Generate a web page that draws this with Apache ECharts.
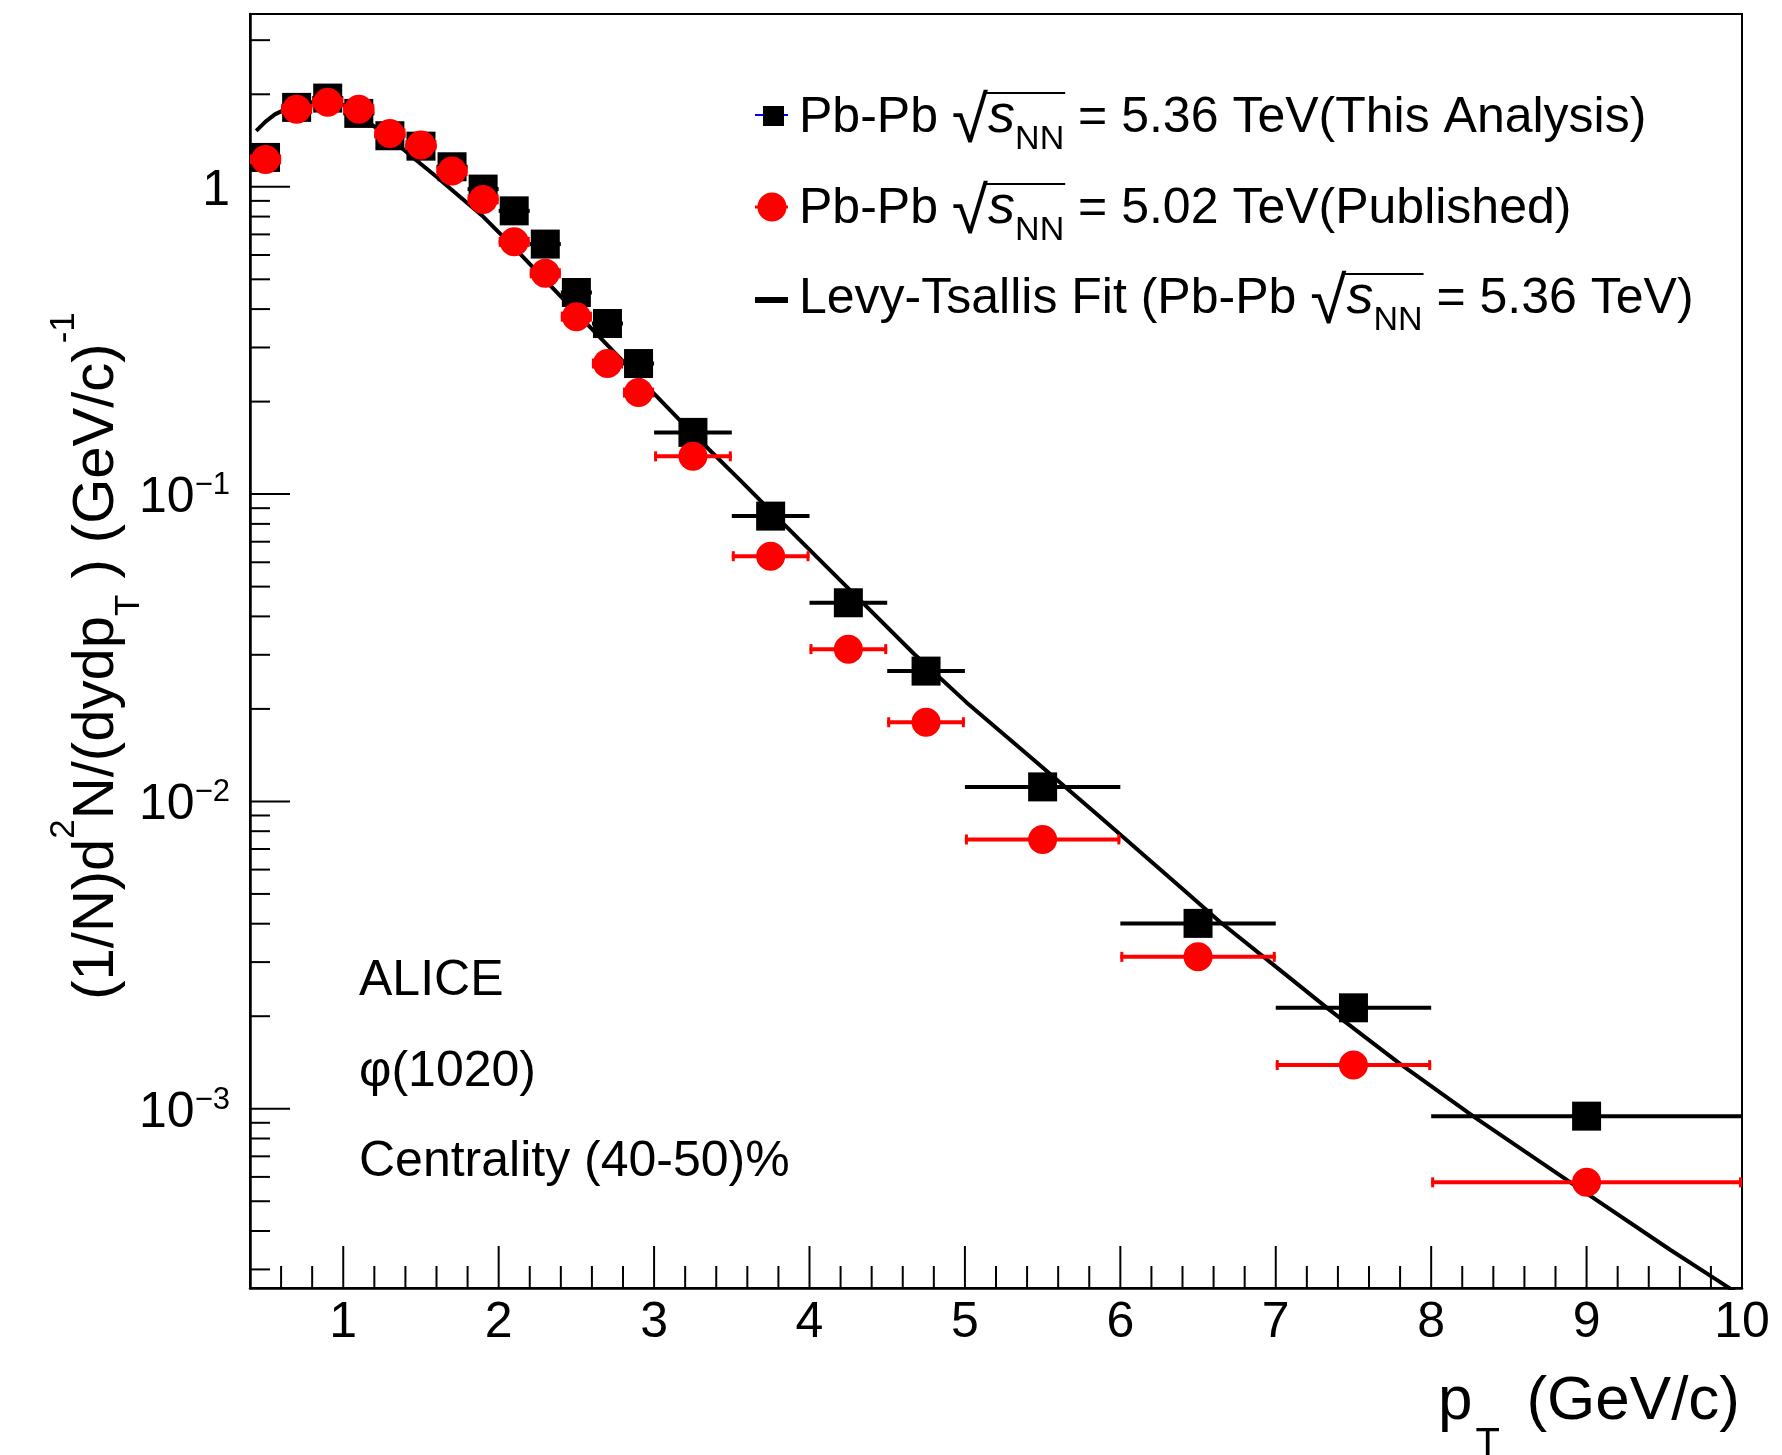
<!DOCTYPE html>
<html><head><meta charset="utf-8">
<script src="https://cdn.jsdelivr.net/npm/echarts@6/dist/echarts.min.js"></script>
<style>html,body{margin:0;padding:0;background:#fff}#c{width:1782px;height:1455px}</style>
</head><body><div id="c"></div><script>
// ---------------- data ----------------
const ptCenters    = [0.5,0.7,0.9,1.1,1.3,1.5,1.7,1.9,2.1,2.3,2.5,2.7,2.9,3.25,3.75,4.25,4.75,5.5,6.5,7.5,9.0];
const ptHalfWidths = [0.1,0.1,0.1,0.1,0.1,0.1,0.1,0.1,0.1,0.1,0.1,0.1,0.1,0.25,0.25,0.25,0.25,0.5,0.5,0.5,1.0];
const yield536 = [1.246,1.813,1.944,1.733,1.466,1.356,1.162,0.983,0.835,0.651,0.453,0.359,0.266,0.1588,0.0848,0.0443,0.02655,0.01115,0.00401,0.00213,0.000946];
const yield502 = [1.228,1.789,1.883,1.789,1.492,1.367,1.125,0.910,0.662,0.523,0.378,0.266,0.214,0.1327,0.0628,0.0313,0.0181,0.00752,0.00312,0.001387,0.000576];
const fitX = [0.44,0.5,0.56,0.65,0.75,0.85,0.95,1.05,1.19,1.33,1.47,1.60,1.69,1.90,2.115,2.33,2.545,2.76,2.97,3.19,3.30,3.55,3.83,4.24,4.67,5.01,5.44,5.87,6.41,6.64,7.03,7.35,7.80,8.29,9.0,9.54,9.84,10.0];
const fitY = [1.52,1.63,1.72,1.81,1.87,1.90,1.89,1.80,1.585,1.40,1.22,1.078,0.985,0.80,0.622,0.479,0.368,0.284,0.220,0.169,0.1486,0.1114,0.0803,0.0499,0.0303,0.0210,0.0137,0.0089,0.00514,0.00406,0.00282,0.00209,0.00140,0.00093,0.00053,0.000347,0.000277,0.000245];

const X_MIN = 0.4, X_MAX = 10;
const Y_MIN = 2.61e-4, Y_MAX = 3.65;
const xTickLabels = [1,2,3,4,5,6,7,8,9,10];
const xMinorTicks = [0.6,0.8,1.2,1.4,1.6,1.8,2.2,2.4,2.6,2.8,3.2,3.4,3.6,3.8,4.2,4.4,4.6,4.8,5.2,5.4,5.6,5.8,6.2,6.4,6.6,6.8,7.2,7.4,7.6,7.8,8.2,8.4,8.6,8.8,9.2,9.4,9.6,9.8];
const yMajorTicks = [0.001,0.01,0.1,1];
const yLabelBases = ['10','10','10','1'];
const yLabelExps  = ['−3','−2','−1',''];
const yMinorTicks = [0.0003,0.0004,0.0005,0.0006,0.0007,0.0008,0.0009,
  0.002,0.003,0.004,0.005,0.006,0.007,0.008,0.009,
  0.02,0.03,0.04,0.05,0.06,0.07,0.08,0.09,
  0.2,0.3,0.4,0.5,0.6,0.7,0.8,0.9,2,3];

// ---------------- helpers ----------------
const FF = '"Liberation Sans", Arial, Helvetica, sans-serif';
const mctx = document.createElement('canvas').getContext('2d');
function tw(t, size, italic) { mctx.font = (italic ? 'italic ' : '') + size + 'px ' + FF; return mctx.measureText(t).width; }
const MID = 0.3465;
function textEl(t, x, base, size, italic, align) {
  return {type:'text', x: x, y: base - MID * size, silent: true, z: 50,
    style:{text: t, fontSize: size, fontFamily: FF, fontStyle: italic ? 'italic' : 'normal',
      fill:'#000', align: align || 'left', verticalAlign:'middle'}};
}
function sqrtLine(x0, base, before, after) {
  const els = []; const S = 50; let x = x0;
  els.push(textEl(before, x, base, S)); x += tw(before, S);
  const RS = 66;
  els.push(textEl('√', x, base + 11, RS)); x += tw('√', RS);
  const olStart = x - 3;
  els.push(textEl('s', x, base, 54, true)); x += tw('s', 54, true);
  els.push(textEl('NN', x, base + 15, 34)); x += tw('NN', 34);
  const olEnd = x + 1;
  els.push({type:'line', silent:true, z:50, shape:{x1: olStart, y1: base - 43, x2: olEnd, y2: base - 43}, style:{stroke:'#000', lineWidth:2}});
  els.push(textEl(after, x, base, S));
  return els;
}
function tickSeries(data, dx, dy) {
  return {type:'custom', coordinateSystem:'cartesian2d', silent:true, z:10, clip:false,
    encode:{x:0, y:1}, data: data,
    renderItem: function (params, api) {
      const p = api.coord([api.value(0), api.value(1)]);
      return {type:'line', shape:{x1:p[0], y1:p[1], x2:p[0] + dx, y2:p[1] + dy}, style:{stroke:'#000', lineWidth:2}};
    }};
}
function errSeries(data, color, caps, z) {
  return {type:'custom', coordinateSystem:'cartesian2d', silent:true, z: z, clip:false,
    encode:{x:0, y:1}, data: data,
    renderItem: function (params, api) {
      const x = api.value(0), y = api.value(1), hw = api.value(2);
      const a = api.coord([x - hw, y]), b = api.coord([x + hw, y]);
      const ch = [{type:'line', shape:{x1:a[0], y1:a[1], x2:b[0], y2:b[1]}, style:{stroke:color, lineWidth:4}}];
      if (caps) {
        ch.push({type:'line', shape:{x1:a[0] + 1.5, y1:a[1] - 5, x2:a[0] + 1.5, y2:a[1] + 5}, style:{stroke:color, lineWidth:3}});
        ch.push({type:'line', shape:{x1:b[0] - 1.5, y1:b[1] - 5, x2:b[0] - 1.5, y2:b[1] + 5}, style:{stroke:color, lineWidth:3}});
      }
      return {type:'group', children: ch};
    }};
}

// ---------------- graphic texts ----------------
const graphics = [];
// legend
graphics.push({type:'line', silent:true, z:50, shape:{x1:755, y1:115, x2:788, y2:115}, style:{stroke:'#0000ff', lineWidth:2}});
graphics.push({type:'rect', silent:true, z:51, shape:{x:763, y:106, width:21, height:20}, style:{fill:'#000'}});
graphics.push({type:'line', silent:true, z:50, shape:{x1:755, y1:207, x2:788, y2:207}, style:{stroke:'#ff0000', lineWidth:3}});
graphics.push({type:'circle', silent:true, z:51, shape:{cx:772, cy:207, r:14.5}, style:{fill:'#ff0000'}});
graphics.push({type:'line', silent:true, z:50, shape:{x1:755, y1:300, x2:788, y2:300}, style:{stroke:'#000', lineWidth:6}});
graphics.push(...sqrtLine(799, 136, 'Pb-Pb ', ' = 5.36 TeV(This Analysis)'));
graphics.push(...sqrtLine(799, 227, 'Pb-Pb ', ' = 5.02 TeV(Published)'));
graphics.push(...sqrtLine(799, 317, 'Levy-Tsallis Fit (Pb-Pb ', ' = 5.36 TeV)'));
// labels
graphics.push(textEl('ALICE', 359, 999, 50));
graphics.push(textEl('φ(1020)', 359, 1090, 50));
graphics.push(textEl('Centrality (40-50)%', 359, 1180, 50));
// x title
const pW = tw('p', 62);
graphics.push(textEl('p', 1438, 1423, 62));
graphics.push(textEl('T', 1438 + pW + 3, 1459, 40));
graphics.push(textEl('(GeV/c)', 1740, 1423, 62, false, 'right'));
// y title (rotated)
graphics.push({type:'text', x: 97, y: 656, rotation: Math.PI / 2, silent:true, z:50,
  style:{text:'{t|(1/N)d}{sp|2}{t|N/(dydp}{sb|T}{t| ) (GeV/c)}{sp|-1}',
    align:'center', verticalAlign:'middle', fill:'#000',
    rich:{
      t:{fontSize:58, lineHeight:100, fontFamily:FF, fill:'#000'},
      sp:{fontSize:35, lineHeight:32, verticalAlign:'top', fontFamily:FF, fill:'#000'},
      sb:{fontSize:35, lineHeight:44, verticalAlign:'bottom', fontFamily:FF, fill:'#000'}
    }}});

// ---------------- chart ----------------
const chart = echarts.init(document.getElementById('c'), null, {renderer:'canvas'});
const axisFont = {fontFamily: FF, color:'#000'};
function yLabel(v) {
  for (let i = 0; i < yMajorTicks.length; i++) {
    if (Math.abs(Math.log10(v) - Math.log10(yMajorTicks[i])) < 1e-6) {
      return yLabelExps[i] ? '{n|' + yLabelBases[i] + '}{s|' + yLabelExps[i] + '}' : '{n|' + yLabelBases[i] + '}';
    }
  }
  return '';
}
chart.setOption({
  animation: false,
  backgroundColor: '#fff',
  grid: {left: 250, top: 14, right: 40, bottom: 167, show: true, borderColor: '#000', borderWidth: 2, containLabel: false, outerBoundsMode: 'none'},
  xAxis: {type:'value', min: X_MIN, max: X_MAX,
    axisLine:{show:true, onZero:false, lineStyle:{color:'#000', width:2.5}},
    axisTick:{show:false}, splitLine:{show:false},
    axisLabel:{customValues: xTickLabels, formatter: function (v) { return String(v); },
      fontSize:50, lineHeight:50, margin:10, ...axisFont, showMinLabel:true, showMaxLabel:true}},
  yAxis: {type:'log', logBase:10, min: Y_MIN, max: Y_MAX,
    axisLine:{show:true, onZero:false, lineStyle:{color:'#000', width:2.5}},
    axisTick:{show:false}, minorTick:{show:false}, splitLine:{show:false}, minorSplitLine:{show:false},
    axisLabel:{formatter: yLabel, margin:20, padding:[8,0,0,0], showMinLabel:false, showMaxLabel:false,
      rich:{
        n:{fontSize:50, lineHeight:56, fontFamily:FF, color:'#000'},
        s:{fontSize:31, lineHeight:30, verticalAlign:'top', fontFamily:FF, color:'#000'}
      }}},
  graphic: graphics,
  series: [
    tickSeries(xTickLabels.map(v => [v, Y_MIN]), 0, -42),
    tickSeries(xMinorTicks.map(v => [v, Y_MIN]), 0, -22),
    tickSeries(yMajorTicks.map(v => [X_MIN, v]), 40, 0),
    tickSeries(yMinorTicks.map(v => [X_MIN, v]), 20, 0),
    {type:'line', name:'Levy-Tsallis Fit', data: fitX.map((x, i) => [x, fitY[i]]), showSymbol:false, symbol:'none',
      lineStyle:{color:'#000', width:4, opacity:1}, z:3, clip:true, silent:true},
    errSeries(ptCenters.map((x, i) => [x, yield536[i], ptHalfWidths[i]]), '#000', false, 4),
    {type:'scatter', name:'5.36', data: ptCenters.map((x, i) => [x, yield536[i]]), symbol:'rect', symbolSize:29,
      itemStyle:{color:'#000', opacity:1}, z:5, silent:true},
    errSeries(ptCenters.map((x, i) => [x, yield502[i], ptHalfWidths[i]]), '#ff0000', true, 6),
    {type:'scatter', name:'5.02', data: ptCenters.map((x, i) => [x, yield502[i]]), symbol:'circle', symbolSize:29,
      itemStyle:{color:'#ff0000', opacity:1}, z:7, silent:true}
  ]
});
</script></body></html>
